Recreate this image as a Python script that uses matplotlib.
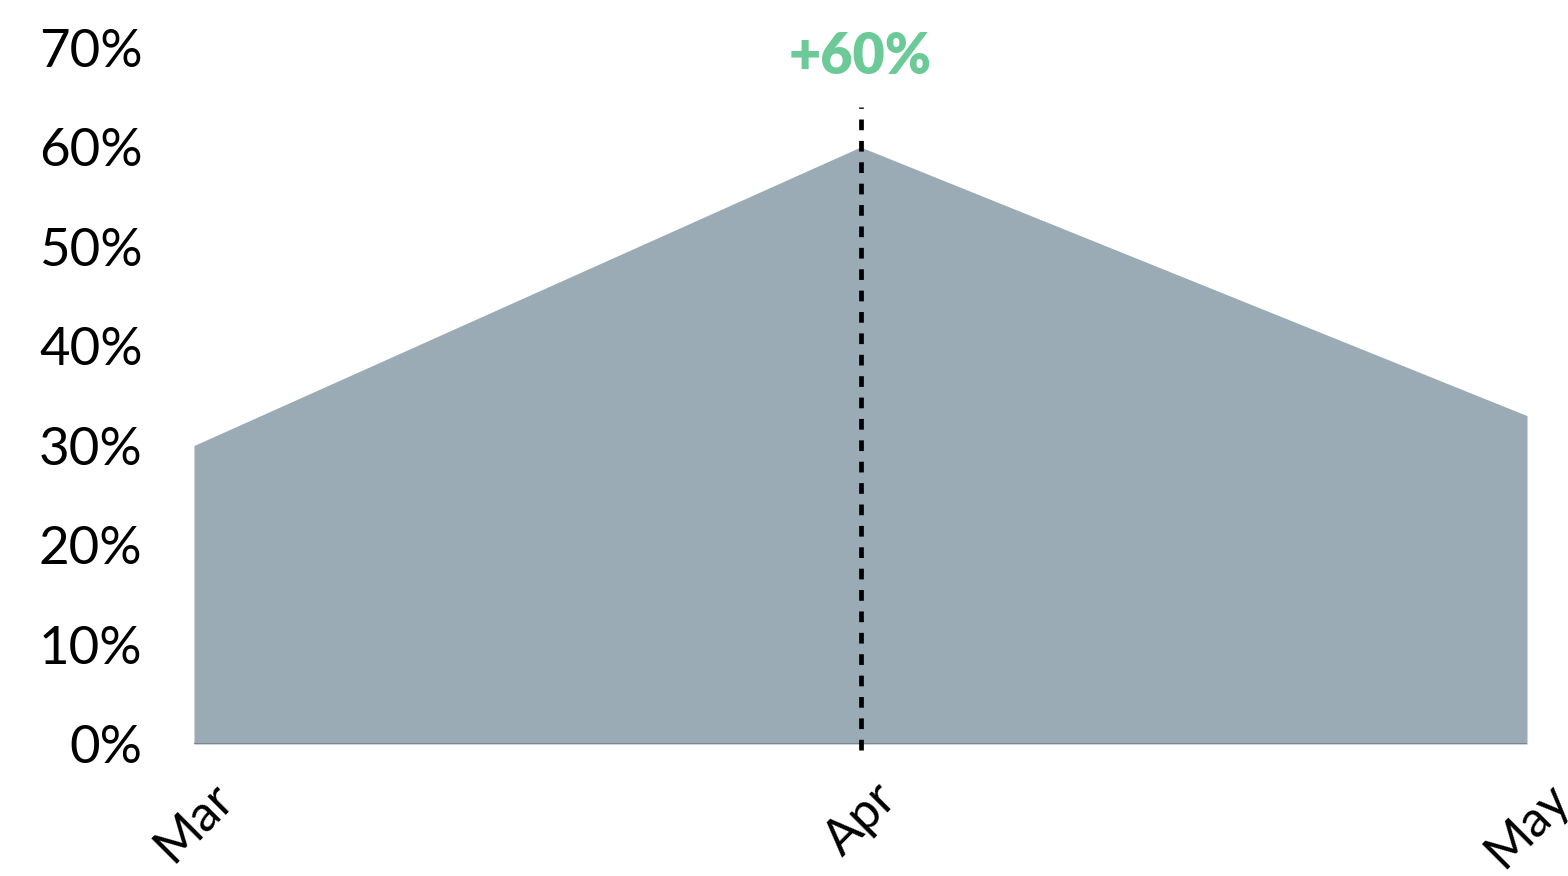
import matplotlib
matplotlib.use("Agg")
import matplotlib.pyplot as plt
from matplotlib.ticker import FuncFormatter

months = ["Mar", "Apr", "May"]
values = [30, 60, 33]
yticks = [0, 10, 20, 30, 40, 50, 60, 70]
highlight_month = "Apr"
highlight_label = "+60%"
highlight_top = 64
label_y = 69

plt.rcParams['font.family'] = ['Lato', 'DejaVu Sans']
plt.rcParams['lines.scale_dashes'] = False

fig = plt.figure(figsize=(15.68, 8.76), dpi=100)
ax = fig.add_axes([194/1568, 132/876, (1527-194)/1568, (744-47.5)/876])

x = list(range(len(months)))
ax.fill_between(x, 0, values, color="#9aabb5", linewidth=0)
ax.plot([x[0], x[-1]], [0, 0], color="#6f7f8a", linewidth=1.2)

hx = months.index(highlight_month)
ax.plot([hx, hx], [-0.6, highlight_top], color="black", linewidth=3.4,
        dashes=(7.7, 7.7), clip_on=False, zorder=3)
ax.text(hx, label_y, highlight_label, color="#6cca98", fontsize=40,
        fontweight="heavy", ha="center", va="center", clip_on=False)

ax.set_xlim(x[0], x[-1])
ax.set_ylim(0, 70)
ax.set_xticks(x)
ax.set_xticklabels(months, rotation=45, ha="center", fontsize=36)
ax.set_yticks(yticks)
ax.yaxis.set_major_formatter(FuncFormatter(lambda v, p: f"{int(v)}%"))
ax.tick_params(axis="y", length=0, pad=37, labelsize=38)
ax.tick_params(axis="x", length=0, pad=22)
for s in ax.spines.values():
    s.set_visible(False)

fig.savefig("out.png", dpi=100)
